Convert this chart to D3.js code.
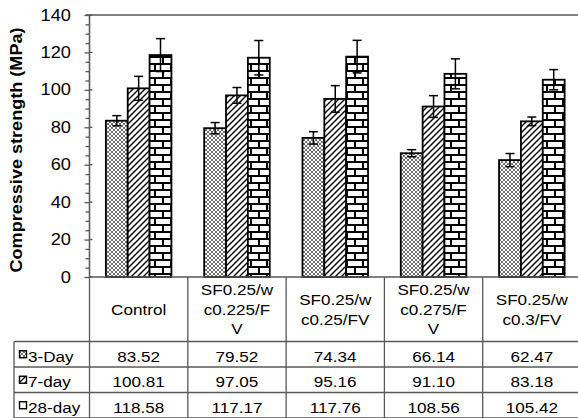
<!DOCTYPE html>
<html>
<head>
<meta charset="utf-8">
<script src="https://cdn.jsdelivr.net/npm/d3@7"></script>
<style>
  html, body { margin: 0; padding: 0; background: #fff; }
  svg { display: block; }
  text { font-family: "Liberation Sans", Arial, sans-serif; fill: #000; }
</style>
</head>
<body>
<svg id="chart" width="578" height="418"></svg>
<script>
// Mix labels (line-wrapped as shown in the table header row)
const categories = ["Control", "SF0.25/wc0.225/FV", "SF0.25/wc0.25/FV", "SF0.25/wc0.275/FV", "SF0.25/wc0.3/FV"];
const categoryLines = [
  ["Control"],
  ["SF0.25/w", "c0.225/F", "V"],
  ["SF0.25/w", "c0.25/FV"],
  ["SF0.25/w", "c0.275/F", "V"],
  ["SF0.25/w", "c0.3/FV"]
];
const seriesNames = ["3-Day", "7-day", "28-day"];

// Mean compressive strength (MPa)
const day3 = [83.52, 79.52, 74.34, 66.14, 62.47];
const day7 = [100.81, 97.05, 95.16, 91.10, 83.18];
const day28 = [118.58, 117.17, 117.76, 108.56, 105.42];

// Standard deviation (MPa)
const err3 = [2.7, 3.0, 3.3, 1.9, 3.5];
const err7 = [6.4, 4.2, 7.1, 5.8, 2.3];
const err28 = [8.8, 9.2, 8.7, 8.0, 5.4];

const yTicks = [0, 20, 40, 60, 80, 100, 120, 140];

const seriesValues = [day3, day7, day28];
const seriesErrors = [err3, err7, err28];

const svg = d3.select("#chart");
const stretch = 1.14;

// --- fill patterns ---
const defs = svg.append("defs");
const pCross = defs.append("pattern").attr("id", "pat3").attr("patternUnits", "userSpaceOnUse")
  .attr("width", 4).attr("height", 4);
pCross.append("rect").attr("width", 4).attr("height", 4).attr("fill", "#fff");
pCross.append("path").attr("d", "M0,0L4,4M0,4L4,0").attr("stroke", "#333").attr("stroke-width", 0.7);

const pDiag = defs.append("pattern").attr("id", "pat7").attr("patternUnits", "userSpaceOnUse")
  .attr("width", 6).attr("height", 6);
pDiag.append("rect").attr("width", 6).attr("height", 6).attr("fill", "#fff");
pDiag.append("path").attr("d", "M-1,7L7,-1M-1,1L1,-1M5,7L7,5").attr("stroke", "#000").attr("stroke-width", 1.4);

const pBrick = defs.append("pattern").attr("id", "pat28").attr("patternUnits", "userSpaceOnUse")
  .attr("width", 16).attr("height", 14);
pBrick.append("rect").attr("width", 16).attr("height", 14).attr("fill", "#fff");
pBrick.append("path").attr("d", "M0,1H16M0,8H16M3,1V8M11,8V14")
  .attr("stroke", "#000").attr("stroke-width", 2);

const fills = ["url(#pat3)", "url(#pat7)", "url(#pat28)"];

// --- scales ---
const plotLeft = 89.5, plotRight = 581, plotTop = 15, plotBottom = 277;
const x = d3.scaleBand().domain(categories).range([plotLeft, plotRight]).padding(0);
const gap = x.bandwidth() * 0.333;
const xs = d3.scaleBand().domain(seriesNames).range([gap / 2, x.bandwidth() - gap / 2]).padding(0);
const y = d3.scaleLinear().domain([0, 140]).range([plotBottom, plotTop]);

const lineCol = "#595959";

// plot top border
svg.append("line").attr("x1", plotLeft - 4).attr("x2", plotRight).attr("y1", y(140)).attr("y2", y(140))
  .attr("stroke", lineCol).attr("stroke-width", 1.3);

// --- bars ---
const bars = svg.append("g");
seriesNames.forEach((s, si) => {
  bars.selectAll(null).data(categories).enter().append("rect")
    .attr("x", c => x(c) + xs(s))
    .attr("y", (c, i) => y(seriesValues[si][i]))
    .attr("width", xs.bandwidth())
    .attr("height", (c, i) => y(0) - y(seriesValues[si][i]))
    .attr("fill", fills[si])
    .attr("stroke", "#000").attr("stroke-width", 1.8);
});

// --- error bars ---
const eb = svg.append("g").attr("stroke", "#000").attr("stroke-width", 1.5);
seriesNames.forEach((s, si) => {
  categories.forEach((c, i) => {
    const cx = x(c) + xs(s) + xs.bandwidth() / 2;
    const v = seriesValues[si][i], e = seriesErrors[si][i];
    eb.append("line").attr("x1", cx).attr("x2", cx).attr("y1", y(v + e)).attr("y2", y(v - e));
    [v + e, v - e].forEach(t => {
      eb.append("line").attr("x1", cx - 4.5).attr("x2", cx + 4.5).attr("y1", y(t)).attr("y2", y(t));
    });
  });
});

// --- y axis ---
const yAxis = svg.append("g").attr("transform", `translate(${plotLeft},0)`);
yAxis.call(d3.axisLeft(y).tickValues(d3.range(0, 141, 5).filter(v => v % 20 !== 0)).tickSize(4).tickFormat(""));
yAxis.call(g => g.append("g").call(d3.axisLeft(y).tickValues(yTicks).tickSizeInner(5).tickSizeOuter(0).tickFormat("")));
yAxis.selectAll("path, line").attr("stroke", lineCol).attr("stroke-width", 1.3);
yAxis.selectAll(".domain").attr("d", `M0,${plotTop}V${plotBottom}`);
// major ticks cross the axis line
yTicks.forEach(t => {
  yAxis.append("line").attr("x1", 0).attr("x2", 3).attr("y1", y(t)).attr("y2", y(t))
    .attr("stroke", lineCol).attr("stroke-width", 1.3);
});
yTicks.forEach(t => {
  svg.append("text")
    .attr("transform", `translate(71,${y(t) + 5.5}) scale(${stretch},1)`)
    .attr("text-anchor", "end").attr("font-size", 16).text(t);
});

// y axis title
svg.append("text")
  .attr("transform", `translate(22,${(plotTop + plotBottom) / 2 + 4}) rotate(-90) scale(1.13,1)`)
  .attr("text-anchor", "middle").attr("font-size", 16).attr("font-weight", "bold")
  .text("Compressive strength (MPa)");

// --- data table ---
const tbl = svg.append("g").attr("stroke", lineCol).attr("stroke-width", 1.3);
const rowY = [277, 341.5, 367, 392.5, 418];
const legendLeft = 14;
// horizontal rules
tbl.append("line").attr("x1", plotLeft).attr("x2", plotRight).attr("y1", rowY[0]).attr("y2", rowY[0]);
[1, 2, 3, 4].forEach(r => {
  tbl.append("line").attr("x1", legendLeft).attr("x2", plotRight).attr("y1", rowY[r]).attr("y2", rowY[r]);
});
// vertical rules
categories.forEach(c => {
  tbl.append("line").attr("x1", x(c)).attr("x2", x(c)).attr("y1", rowY[0]).attr("y2", rowY[4]);
});
tbl.append("line").attr("x1", plotRight).attr("x2", plotRight).attr("y1", rowY[0]).attr("y2", rowY[4]);
tbl.append("line").attr("x1", legendLeft).attr("x2", legendLeft).attr("y1", rowY[1]).attr("y2", rowY[4]);

// category header labels
categories.forEach((c, i) => {
  const lines = categoryLines[i];
  const cx = x(c) + x.bandwidth() / 2;
  const mid = (rowY[0] + rowY[1]) / 2;
  const lh = 19.5;
  lines.forEach((ln, k) => {
    const by = mid + 5.5 + (k - (lines.length - 1) / 2) * lh;
    svg.append("text")
      .attr("transform", `translate(${cx},${by}) scale(${stretch},1)`)
      .attr("text-anchor", "middle").attr("font-size", 15).text(ln);
  });
});

// series rows: legend key, name, values
const baselines = [361.5, 387.3, 412.8];
seriesNames.forEach((s, si) => {
  const cyMid = (rowY[si + 1] + rowY[si + 2]) / 2;
  svg.append("rect").attr("x", 19.5).attr("y", cyMid - 3.5).attr("width", 7).attr("height", 7)
    .attr("fill", si === 2 ? "#fff" : fills[si]).attr("stroke", "#000").attr("stroke-width", 1.4);
  svg.append("text")
    .attr("transform", `translate(28,${baselines[si]}) scale(${stretch},1)`)
    .attr("font-size", 15).text(s);
  categories.forEach((c, i) => {
    svg.append("text")
      .attr("transform", `translate(${x(c) + x.bandwidth() / 2},${baselines[si]}) scale(${stretch},1)`)
      .attr("text-anchor", "middle").attr("font-size", 15)
      .text(seriesValues[si][i].toFixed(2));
  });
});
</script>
</body>
</html>
